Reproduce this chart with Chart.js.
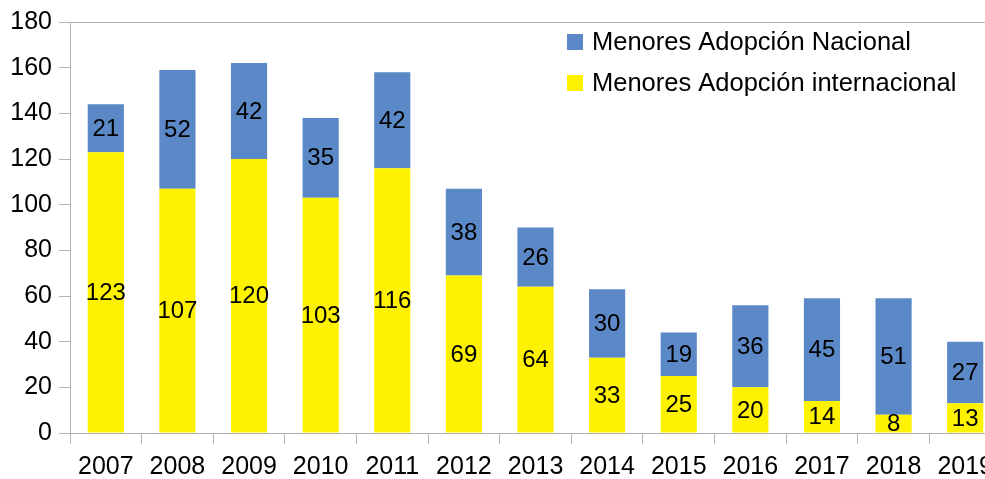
<!DOCTYPE html>
<html>
<head>
<meta charset="utf-8">
<script src="https://cdn.jsdelivr.net/npm/chart.js@4/dist/chart.umd.min.js"></script>
<style>
html,body{margin:0;padding:0;background:#fff;overflow:hidden;}
#wrap{width:1001px;height:479px;}
</style>
</head>
<body>
<div id="wrap"><canvas id="grafico" width="1001" height="479"></canvas></div>
<script>
// datos
var anios = ['2007','2008','2009','2010','2011','2012','2013','2014','2015','2016','2017','2018','2019'];
var adopcionInternacional = [123,107,120,103,116,69,64,33,25,20,14,8,13];
var adopcionNacional = [21,52,42,35,42,38,26,30,19,36,45,51,27];
var ticksY = [0,20,40,60,80,100,120,140,160,180];

var fuente = '"Liberation Sans", Arial, sans-serif';
var gris = '#b3b3b3';

// etiquetas de valor dentro de cada barra
var etiquetas = {
  id: 'etiquetas',
  afterDatasetsDraw: function(chart){
    var ctx = chart.ctx;
    ctx.save();
    ctx.font = '24px ' + fuente;
    ctx.fillStyle = '#000';
    ctx.textAlign = 'center';
    ctx.textBaseline = 'middle';
    chart.data.datasets.forEach(function(ds, i){
      var meta = chart.getDatasetMeta(i);
      meta.data.forEach(function(bar, j){
        var p = bar.getProps(['x','y','base'], true);
        ctx.fillText(String(ds.data[j]), p.x, (p.y + p.base) / 2 + 1);
      });
    });
    ctx.restore();
  }
};

// leyenda dibujada a mano arriba a la derecha
var leyenda = {
  id: 'leyenda',
  afterDraw: function(chart){
    var ctx = chart.ctx;
    var ds = chart.data.datasets.slice().reverse();
    ctx.save();
    ctx.font = '25.5px ' + fuente;
    ctx.textBaseline = 'middle';
    ctx.textAlign = 'left';
    for (var i = 0; i < ds.length; i++){
      var y = 42 + i * 41;
      ctx.fillStyle = ds[i].backgroundColor;
      ctx.fillRect(567, y - 8, 16, 16);
      ctx.fillStyle = '#000';
      ctx.fillText(ds[i].label, 592, y + 1);
    }
    ctx.restore();
  }
};

var ctx = document.getElementById('grafico').getContext('2d');
var grafico = new Chart(ctx, {
  type: 'bar',
  data: {
    labels: anios,
    datasets: [{
      label: 'Menores Adopción internacional',
      data: adopcionInternacional,
      backgroundColor: '#fff200',
      barPercentage: 0.505,
      categoryPercentage: 1
    },{
      label: 'Menores Adopción Nacional',
      data: adopcionNacional,
      backgroundColor: '#5b88c6',
      barPercentage: 0.505,
      categoryPercentage: 1
    }]
  },
  options: {
    responsive: false,
    animation: false,
    devicePixelRatio: 1,
    layout: { padding: { top: 22, left: 0, right: 0, bottom: 0 } },
    plugins: {
      legend: { display: false },
      tooltip: { enabled: false }
    },
    scales: {
      x: {
        stacked: true,
        offset: true,
        afterFit: function(s){ s.height = 46; },
        border: { display: true, color: gris, width: 1 },
        grid: { offset: true, drawOnChartArea: false, tickLength: 11, color: gris },
        ticks: { color: '#000', font: { family: fuente, size: 25 }, padding: 8, maxRotation: 0, autoSkip: false }
      },
      y: {
        stacked: true,
        min: 0,
        max: 180,
        afterFit: function(s){ s.width = 70; },
        afterBuildTicks: function(s){ s.ticks = ticksY.map(function(v){ return {value: v}; }); },
        border: { display: true, color: gris, width: 1 },
        grid: {
          drawOnChartArea: true,
          tickLength: 11,
          tickColor: gris,
          color: function(c){ return (c.tick && c.tick.value === 180) ? gris : 'rgba(0,0,0,0)'; }
        },
        ticks: { color: '#000', font: { family: fuente, size: 25 }, padding: 7 }
      }
    }
  },
  plugins: [etiquetas, leyenda]
});
</script>
</body>
</html>
